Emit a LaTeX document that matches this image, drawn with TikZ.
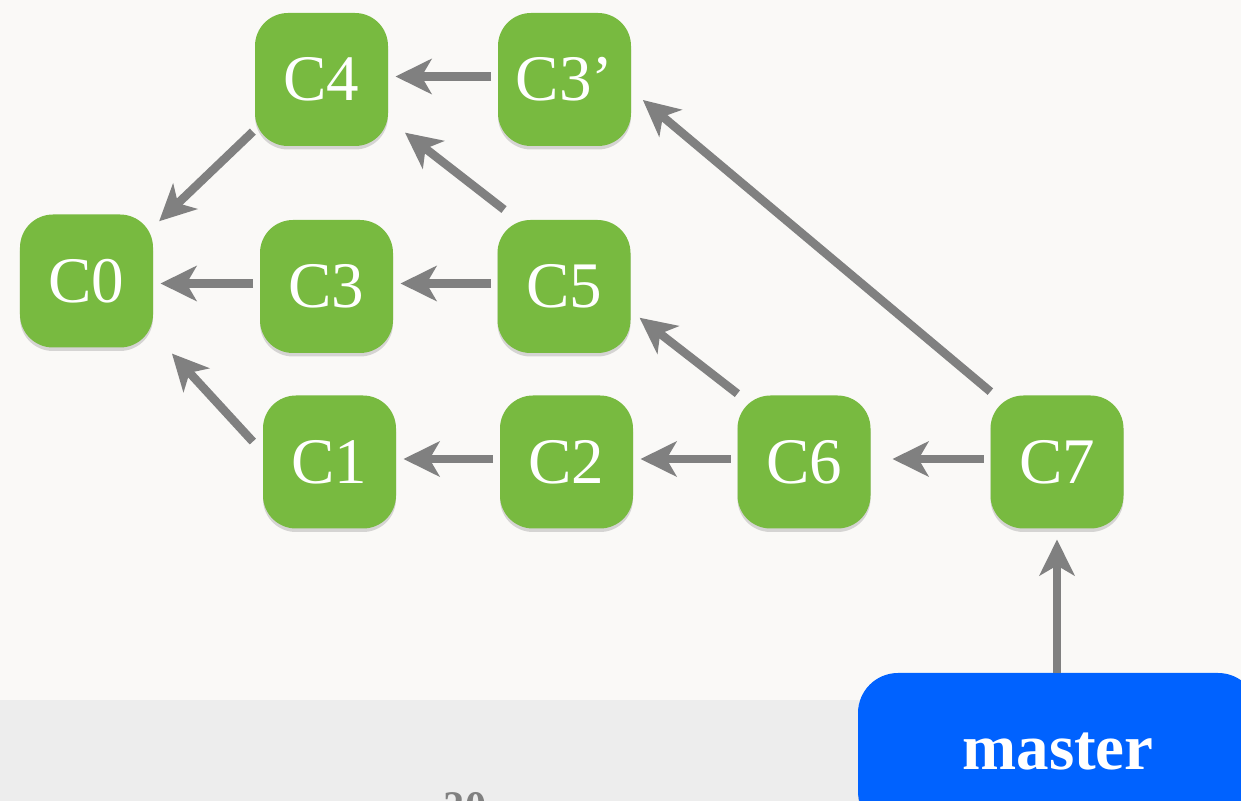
\documentclass[tikz,border=0pt]{standalone}
\usepackage{fontspec}
\setmainfont{Liberation Serif}
\usepackage{tikz}
\definecolor{colcommit}{RGB}{120,186,64}
\definecolor{colbranch}{RGB}{0,98,255}
\definecolor{colarrow}{RGB}{128,128,128}
\definecolor{colpaper}{RGB}{250,249,247}
\definecolor{colband}{RGB}{237,237,237}
\usetikzlibrary{arrows.meta,shadows}
\tikzset{
	>={Stealth[length=0.72cm, width=0.7cm, inset=0.2cm]},
	parent/.style={->, line width=0.17cm, colarrow},
	commit/.style={rounded corners=0.66cm, fill=colcommit, text=white, minimum size=2.66cm, inner sep=0pt, outer sep=0pt,
		font=\fontsize{37}{40}\selectfont, drop shadow={shadow xshift=0cm, shadow yshift=-0.07cm, opacity=0.3}},
	branch/.style={rounded corners=0.8cm, fill=colbranch, text=white, minimum width=8cm, minimum height=3.16cm, inner sep=0pt, outer sep=0pt,
		font=\bfseries\fontsize{37}{40}\selectfont, drop shadow={shadow xshift=0cm, shadow yshift=-0.07cm, opacity=0.3}}
}

\begin{document}
\begin{tikzpicture}
	\useasboundingbox (0,0) rectangle (24.82,16.02);
	\fill[colpaper] (0,0) rectangle (24.82,16.02);
	\fill[colband] (0,0) rectangle (24.82,2.02);
	\node[anchor=north, text=colarrow, font=\bfseries\fontsize{24}{24}\selectfont] (page) at (9.3,0.3) {20};
	\foreach \name/\label/\x/\y in {C0/C0/1.73/10.40, C4/C4/6.43/14.43, C3p/C3'/11.29/14.43, C3/C3/6.53/10.29, C5/C5/11.28/10.29,
		C1/C1/6.59/6.78, C2/C2/11.33/6.78, C6/C6/16.08/6.78, C7/C7/21.14/6.78} {
		\node[commit] (\name) at (\x,\y) {\label};
	}
	\node[branch] (master) at (21.16,0.98) {master};
	\foreach \from/\to in {C3p/C4, C5/C3, C3/C0, C2/C1, C6/C2} {
		\draw[parent, shorten <=0.14cm, shorten >=0.15cm] ([yshift=0.06cm]\from.west) -- ([yshift=0.06cm]\from.west -| \to.east);
	}
	\draw[parent, shorten <=0.14cm, shorten >=0.44cm] ([yshift=0.06cm]C7.west) -- ([yshift=0.06cm]C7.west -| C6.east);
	\foreach \from/\a/\to/\b/\s/\e in {C4/217.5/C0/39/0.06/0.17, C5/125.5/C4/329.7/0.34/0.43, C1/172/C0/322.5/0.30/0.56,
		C6/134/C5/340.7/0.06/0.23, C7/133.3/C3p/351.1/0.12/0.31} {
		\draw[parent, shorten <=\s cm, shorten >=\e cm] (\from.\a) -- (\to.\b);
	}
	\draw[parent, shorten >=0.22cm] (master.north -| C7) -- (C7.south);
\end{tikzpicture}
\end{document}
